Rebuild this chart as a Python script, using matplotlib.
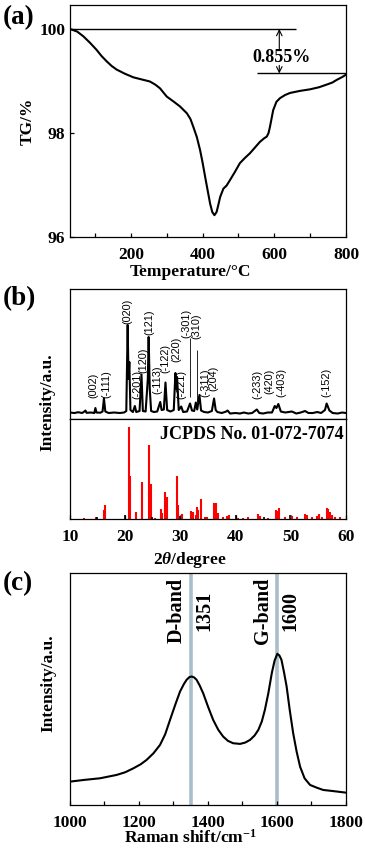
import matplotlib
matplotlib.use("Agg")
import matplotlib.pyplot as plt

plt.rcParams['font.family'] = ['Liberation Serif', 'DejaVu Serif']
plt.rcParams['font.weight'] = 'bold'
plt.rcParams['mathtext.fontset'] = 'custom'
plt.rcParams['mathtext.rm'] = 'Liberation Serif:bold'
plt.rcParams['mathtext.it'] = 'Liberation Serif:italic:bold'
plt.rcParams['mathtext.bf'] = 'Liberation Serif:bold'

# (a) TG-Kurve
tg_temp = [30, 50, 67, 85, 104, 118, 132, 146, 160, 183, 207, 230, 253, 268, 281, 300,
           320, 337, 356, 366, 374, 384, 393, 400, 407, 414, 421, 427, 433, 439, 444,
           449, 458, 467, 476, 490, 504, 518, 532, 546, 560, 572, 579, 584, 588, 597,
           606, 616, 630, 644, 672, 700, 725, 746, 762, 774, 788, 800]
tg_mass = [100.0, 99.95, 99.86, 99.74, 99.6, 99.48, 99.38, 99.29, 99.22, 99.14, 99.07,
           99.03, 98.99, 98.93, 98.86, 98.70, 98.60, 98.51, 98.38, 98.27, 98.12, 97.92,
           97.67, 97.43, 97.16, 96.9, 96.64, 96.48, 96.42, 96.48, 96.62, 96.77, 96.93,
           96.99, 97.09, 97.25, 97.42, 97.52, 97.61, 97.72, 97.83, 97.90, 97.93, 98.0,
           98.12, 98.44, 98.6, 98.67, 98.73, 98.77, 98.81, 98.84, 98.88, 98.93, 98.97,
           99.02, 99.07, 99.12]
tg_loss = 0.855
tg_ticks = [200, 400, 600, 800]
tg_yticks = [96, 98, 100]

# (b) XRD-Muster (gemessen)
xrd_2theta = [10.0, 10.8, 11.5, 12.2, 12.6, 12.8, 13.0, 13.8, 14.4, 14.6, 14.8, 15.5,
              15.9, 16.15, 16.4, 17.0, 18.0, 19.0, 19.8, 20.2, 20.45, 20.6, 20.75,
              20.95, 21.4, 21.75, 22.0, 22.6, 22.95, 23.2, 23.7, 24.1, 24.25, 24.45,
              24.7, 25.2, 25.8, 26.35, 26.6, 27.0, 27.3, 27.6, 28.2, 28.8, 29.1, 29.25,
              29.4, 29.7, 30.15, 30.5, 31.2, 31.75, 32.1, 32.5, 32.8, 33.05, 33.45,
              33.75, 34.3, 35.0, 35.7, 36.1, 36.4, 36.7, 37.5, 38.3, 38.55, 39.0, 40.0,
              40.8, 41.5, 42.3, 43.0, 43.85, 44.3, 45.0, 45.8, 46.6, 47.1, 47.4, 47.75,
              48.2, 49.0, 49.6, 50.2, 51.0, 51.8, 52.6, 53.2, 54.0, 54.8, 55.5, 56.2,
              56.5, 57.0, 57.6, 58.5, 59.3, 60.0]
xrd_int = [6.5, 6.0, 6.8, 6.0, 7.5, 8.5, 6.2, 6.5, 6.0, 11.0, 6.5, 6.3,
           7.5, 20.5, 7.5, 6.0, 6.5, 6.0, 6.5, 8.0, 94.0, 40.0, 57.0,
           9.0, 7.0, 13.0, 7.0, 8.0, 44.5, 8.0, 7.5, 40.0, 82.0, 30.0,
           8.0, 7.0, 7.5, 17.0, 9.0, 9.5, 36.5, 9.0, 7.5, 9.0, 46.0, 30.0,
           42.0, 9.0, 12.5, 7.0, 7.5, 15.5, 8.5, 8.0, 16.5, 9.5, 24.0,
           8.5, 7.0, 6.5, 8.0, 20.5, 9.0, 7.0, 6.0, 7.5, 8.5, 5.5, 6.0,
           5.5, 6.5, 5.5, 6.0, 9.5, 6.0, 5.5, 6.5, 6.5, 13.0, 11.0, 15.0,
           7.5, 6.5, 7.0, 7.5, 5.5, 6.5, 8.0, 6.0, 6.0, 7.0, 6.0, 9.0,
           15.5, 8.5, 6.0, 5.5, 6.5, 6.0]

# Reflexe (Beschriftung)
hkl_labels = ['(002)', '(-111)', '(020)', '(-201)', '(120)', '(121)', '(-113)', '(-122)',
              '(220)', '(-221)', '(-301)', '(310)', '(-311)', '(204)', '(-233)', '(420)',
              '(-403)', '(-152)']
hkl_x = [14.3, 16.5, 20.45, 22.2, 23.25, 24.4, 25.9, 27.35, 29.3, 30.15, 31.1, 32.95,
         34.45, 35.95, 43.95, 46.05, 48.3, 56.5]
hkl_y = [21, 21, 95, 20, 46, 84, 25, 46, 57, 20, 81, 80, 22, 28, 20, 25, 22, 22]
leader_x = [31.8, 33.0]
leader_top = [80.7, 69.0]
leader_bot = [22.0, 17.5]

# JCPDS 01-072-7074 Referenz
ref_2theta = [12.6, 14.65, 16.16, 16.4, 20.6, 20.87, 21.9, 23.05, 24.25, 24.6, 25.4,
              26.4, 26.7, 27.3, 27.55, 29.3, 29.6, 30.35, 31.9, 32.3, 32.8, 33.0, 33.25,
              33.7, 34.45, 34.9, 36.1, 36.45, 36.75, 37.8, 38.4, 38.8, 40.5, 41.4, 42.3,
              44.0, 44.4, 45.9, 47.25, 47.55, 47.9, 48.95, 50.3, 51.1, 52.6, 52.9, 53.8,
              54.7, 55.1, 55.6, 56.5, 56.8, 57.1, 57.4, 58.0, 58.9]
ref_int = [0.7, 2.0, 9.3, 14.0, 91.7, 43.0, 6.7, 36.7, 74.0, 35.0, 1.0,
           9.7, 6.3, 27.3, 22.3, 43.3, 14.0, 4.7, 8.0, 6.7, 4.0, 12.3, 9.0,
           20.0, 2.0, 2.0, 15.7, 15.7, 5.7, 2.3, 3.3, 4.0, 1.3, 1.3, 1.7,
           4.7, 3.0, 1.3, 9.0, 8.3, 10.7, 2.3, 3.3, 2.3, 4.7, 4.0, 2.3,
           3.3, 4.7, 2.3, 11.3, 10.0, 7.3, 4.0, 2.3, 1.7]
other_2theta = [14.95, 19.96, 24.8, 29.98, 40.0, 45.2, 49.85]
other_int = [2.0, 4.0, 2.0, 3.0, 4.0, 2.3, 4.0]

# (c) Raman-Spektrum
raman_shift = [1000, 1040, 1087, 1135, 1160, 1184, 1205, 1222, 1242, 1261, 1276, 1290,
               1305, 1319, 1330, 1338, 1346, 1353, 1360, 1367, 1376, 1386, 1400, 1415,
               1430, 1444, 1458, 1473, 1493, 1508, 1522, 1535, 1546, 1556, 1565, 1575,
               1585, 1593, 1601, 1607, 1613, 1620, 1628, 1637, 1647, 1657, 1667, 1680,
               1696, 1715, 1734, 1760, 1800]
raman_int = [70, 75, 80, 90, 98, 110, 122, 135, 155, 180, 212, 255,
             300, 340, 362, 375, 383, 385, 382, 375, 358, 335, 295, 255,
             225, 205, 192, 185, 183, 187, 195, 208, 225, 250, 285, 335,
             395, 432, 453, 448, 435, 400, 355, 285, 215, 160, 115, 80,
             60, 52, 45, 42, 37]
band_pos = [1351, 1600]
band_name = ['D-band', 'G-band']

fig = plt.figure(figsize=(3.65, 8.56), dpi=100)

def style_axis(ax):
    for s in ax.spines.values():
        s.set_linewidth(0.9)
    ax.tick_params(direction='in', which='both', length=3, width=0.9,
                   labelsize=12.5, top=False, right=False)

# ---- (a) ----
ax1 = fig.add_axes([0.1918, 0.7231, 0.756, 0.2710])
ax1.plot(tg_temp, tg_mass, color='black', lw=1.5)
ax1.hlines(100, 30, 662, color='black', lw=1.0)
ax1.hlines(100 - tg_loss, 553, 800, color='black', lw=1.0)
ax1.annotate('', xy=(614, 100), xytext=(614, 99.62),
             arrowprops=dict(arrowstyle='->', lw=0.8, color='black', shrinkA=0, shrinkB=0))
ax1.annotate('', xy=(614, 100 - tg_loss), xytext=(614, 99.30),
             arrowprops=dict(arrowstyle='->', lw=0.8, color='black', shrinkA=0, shrinkB=0))
ax1.text(620, 99.46, f'{tg_loss}%', ha='center', va='center', fontsize=13)
ax1.set_xlim(30, 800)
ax1.set_ylim(96, 100.46)
ax1.set_xticks(tg_ticks)
ax1.set_xticks([100, 300, 500, 700], minor=True)
ax1.set_yticks(tg_yticks)
style_axis(ax1)
ax1.tick_params(axis='x', pad=7)
fig.text(0.077, 1 - 121 / 856, 'TG/%', rotation=90, ha='center', va='center', fontsize=12.5)
fig.text(0.5205, 1 - 272 / 856, 'Temperature/°C', ha='center', va='center', fontsize=12.5)
fig.text(0.008, 1 - 5 / 856, '(a)', ha='left', va='top', fontsize=19.5)

# ---- (b) ----
ax2 = fig.add_axes([0.1918, 0.5105, 0.756, 0.1519])
ax2.plot(xrd_2theta, xrd_int, color='black', lw=1.5)
for lab, x, y in zip(hkl_labels, hkl_x, hkl_y):
    ax2.text(x, y, lab, rotation=90, ha='center', va='bottom', fontsize=7.8,
             family=['Liberation Sans', 'DejaVu Sans'], fontweight='normal')
ax2.vlines(leader_x, leader_bot, leader_top, color='black', lw=0.6)
ax2.set_xlim(10, 60)
ax2.set_ylim(0, 130)
ax2.set_xticks([])
ax2.set_yticks([])
style_axis(ax2)

ax3 = fig.add_axes([0.1918, 0.3937, 0.756, 0.1168])
ax3.vlines(ref_2theta, 0, ref_int, color='#ff0000', lw=1.5)
ax3.vlines(other_2theta, 0, other_int, color='black', lw=1.2)
ax3.text(59.6, 93, 'JCPDS No. 01-072-7074', ha='right', va='top', fontsize=13)
ax3.set_xlim(10, 60)
ax3.set_ylim(0, 100)
ax3.set_xticks([10, 20, 30, 40, 50, 60])
ax3.set_yticks([])
style_axis(ax3)
ax3.tick_params(axis='x', pad=7)
fig.text(0.129, 1 - 402 / 856, 'Intensity/a.u.', rotation=90, ha='center', va='center', fontsize=12.5)
fig.text(0.5205, 1 - 560 / 856, r'2$\theta$/degree', ha='center', va='center', fontsize=12.5)
fig.text(0.008, 1 - 286 / 856, '(b)', ha='left', va='top', fontsize=19.5)

# ---- (c) ----
ax4 = fig.add_axes([0.1918, 0.0596, 0.756, 0.2710])
for p in band_pos:
    ax4.axvline(p, color='#a9bec8', lw=2.6, zorder=1)
ax4.plot(raman_shift, raman_int, color='black', lw=1.5, zorder=2)
for p, name in zip(band_pos, band_name):
    ax4.text(p - 12, 582, name, rotation=90, ha='right', va='center', fontsize=14.5)
    ax4.text(p + 10, 582, str(p), rotation=90, ha='left', va='center', fontsize=14.5)
ax4.set_xlim(1000, 1800)
ax4.set_ylim(0, 695)
ax4.set_xticks([1000, 1200, 1400, 1600, 1800])
ax4.set_xticks([1100, 1300, 1500, 1700], minor=True)
ax4.set_yticks([])
style_axis(ax4)
ax4.tick_params(axis='x', pad=7)
fig.text(0.132, 1 - 683 / 856, 'Intensity/a.u.', rotation=90, ha='center', va='center', fontsize=12.5)
fig.text(0.5205, 1 - 838 / 856, r'Raman shift/cm$^{\mathbf{-1}}$', ha='center', va='center', fontsize=12.5)
fig.text(0.008, 1 - 571 / 856, '(c)', ha='left', va='top', fontsize=19.5)

fig.savefig('out.png', dpi=100)
